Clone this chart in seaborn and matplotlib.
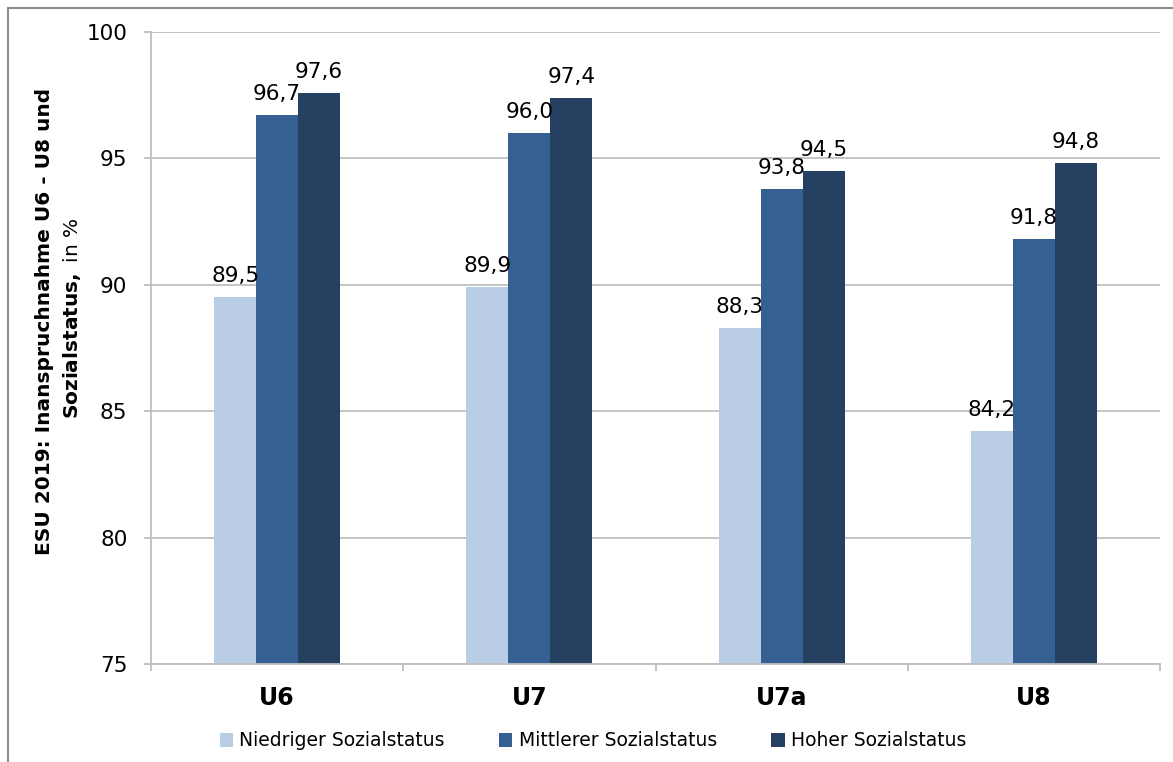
import matplotlib
matplotlib.use("Agg")
import matplotlib.pyplot as plt
from matplotlib.patches import Rectangle, Patch
import seaborn as sns
import pandas as pd

# Inanspruchnahme der Früherkennungsuntersuchungen nach Sozialstatus (ESU 2019)
untersuchungen = ["U6", "U7", "U7a", "U8"]
status_gruppen = ["Niedriger Sozialstatus", "Mittlerer Sozialstatus", "Hoher Sozialstatus"]
niedrig = [89.5, 89.9, 88.3, 84.2]
mittel = [96.7, 96.0, 93.8, 91.8]
hoch = [97.6, 97.4, 94.5, 94.8]
y_ticks = [75, 80, 85, 90, 95, 100]

farben = ["#B9CDE5", "#376092", "#254061"]

rows = []
for gruppe, werte in zip(status_gruppen, [niedrig, mittel, hoch]):
    for u, w in zip(untersuchungen, werte):
        rows.append({"Untersuchung": u, "Status": gruppe, "Wert": w})
df = pd.DataFrame(rows)

sns.set_theme(style="white")
plt.rcParams["font.family"] = ["DejaVu Sans"]
plt.rcParams["text.color"] = "black"

fig = plt.figure(figsize=(11.73, 7.62), dpi=100)
ax = fig.add_axes([151 / 1173, 1 - 664 / 762, (1160 - 151) / 1173, (664 - 32) / 762])

sns.barplot(data=df, x="Untersuchung", y="Wert", hue="Status",
            order=untersuchungen, hue_order=status_gruppen,
            palette=farben, width=0.5, saturation=1, linewidth=0,
            legend=False, ax=ax)

ax.set_ylim(75, 100)
ax.set_xlim(-0.5, len(untersuchungen) - 0.5)
ax.set_yticks(y_ticks)
ax.yaxis.grid(True, color="#BFBFBF", linewidth=1.3)
ax.set_axisbelow(True)

for side in ["top", "right"]:
    ax.spines[side].set_visible(False)
for side in ["left", "bottom"]:
    ax.spines[side].set_color("#BFBFBF")
    ax.spines[side].set_linewidth(1.3)

ax.tick_params(axis="y", which="major", direction="out", length=5, width=1.3,
               color="#BFBFBF", pad=12, labelsize=15.5, labelcolor="black", left=True)
ax.set_xticks(range(len(untersuchungen)))
ax.set_xticklabels(untersuchungen, fontsize=17, fontweight="bold")
ax.set_xticks([i - 0.5 for i in range(len(untersuchungen) + 1)], minor=True)
ax.tick_params(axis="x", which="major", length=0, pad=16, labelcolor="black")
ax.tick_params(axis="x", which="minor", direction="out", length=5, width=1.3,
               color="#BFBFBF", bottom=True)
ax.set_xlabel("")
ax.set_ylabel("")

# Wertebeschriftungen über den Balken
for container in ax.containers:
    werte = [bar.get_height() for bar in container]
    ax.bar_label(container, labels=[f"{v:.1f}".replace(".", ",") for v in werte],
                 padding=8, fontsize=15.5, color="black")

# Achsentitel (zweizeilig, zweite Zeile teils fett)
fig.text(45 / 1173, 1 - 321 / 762, "ESU 2019: Inanspruchnahme U6 - U8 und",
         rotation=90, ha="center", va="center", fontsize=14.5, fontweight="bold",
         color="black")
fig.text(72 / 1173, 1 - 318 / 762, r"$\bf{Sozialstatus,}$ in %",
         rotation=90, ha="center", va="center", fontsize=14.5, color="black")

# Legende
handles = [Patch(facecolor=c, edgecolor="none") for c in farben]
fig.legend(handles, status_gruppen, loc="center", bbox_to_anchor=(593 / 1173, 1 - 741 / 762),
           ncol=3, frameon=False, fontsize=13.5, handlelength=0.7, handleheight=0.7,
           handletextpad=0.35, columnspacing=2.9, labelcolor="black")

# Rahmen um die Grafik
fig.add_artist(Rectangle((7.5 / 1173, -0.1), 1.2, 1.1 - 7.5 / 762,
                         transform=fig.transFigure, fill=False,
                         edgecolor="#8C8C8C", linewidth=1.5, clip_on=False))

fig.savefig("out.png", dpi=100)
